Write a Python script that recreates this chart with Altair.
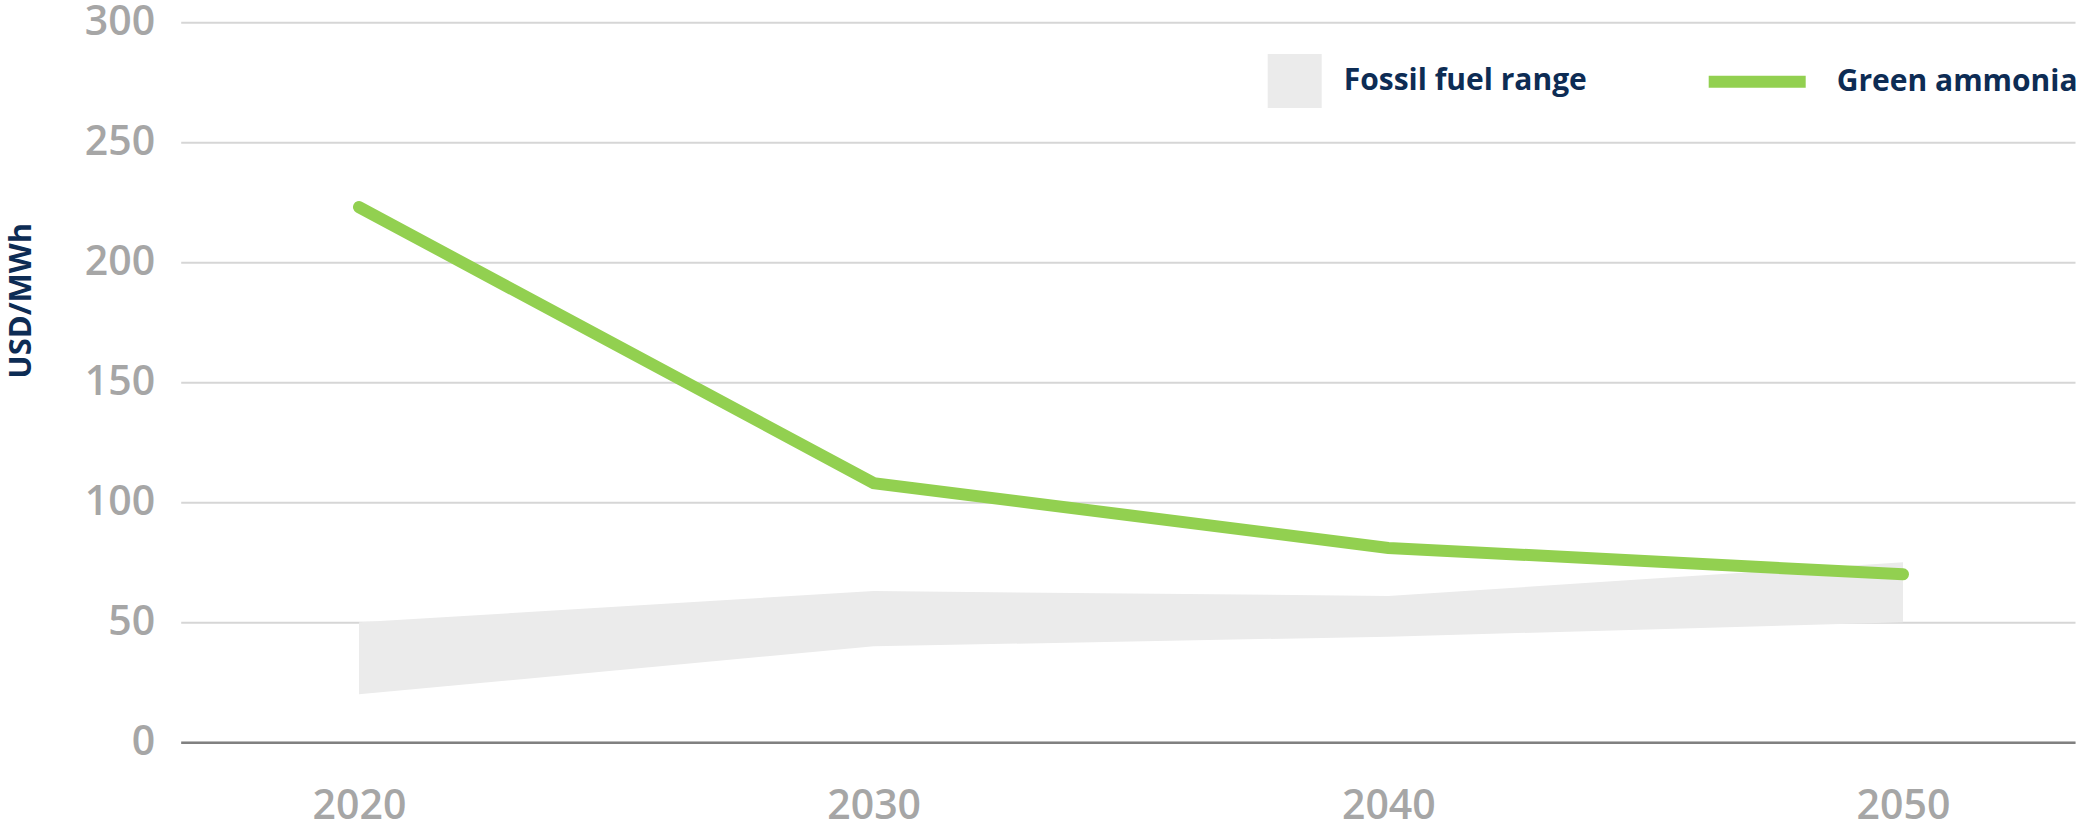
import altair as alt
import pandas as pd

# Levelised cost, USD/MWh
years = [2020, 2030, 2040, 2050]
green_ammonia = [223, 108, 81, 70]
fossil_low = [20, 40, 44, 50]
fossil_high = [50, 63, 61, 75]

y_ticks = [0, 50, 100, 150, 200, 250, 300]

NAVY = "#0D2C54"
GREEN = "#92D050"
GREY_FILL = "#EBEBEB"
FONT = "Open Sans"

fossil = pd.DataFrame({
    "year": years,
    "low": fossil_low,
    "high": fossil_high,
    "series": ["Fossil fuel range"] * len(years),
})
ammonia = pd.DataFrame({
    "year": years,
    "cost": green_ammonia,
    "series": ["Green ammonia"] * len(years),
})

x_scale = alt.Scale(domain=[2016.536, 2053.342], nice=False, zero=False)
y_scale = alt.Scale(domain=[0, 300], nice=False)

x_axis = alt.Axis(
    values=years, format="d", grid=False, ticks=False, tickSize=0,
    labelPadding=44, labelFontSize=41, labelFont=FONT, labelFontWeight=600,
    labelColor="#A6A6A6", domainColor="#808080", domainWidth=2.5,
    title=None,
)
y_axis = alt.Axis(
    values=y_ticks, grid=True, gridColor="#D6D6D6", gridWidth=2,
    ticks=False, tickSize=0, domain=False, labelPadding=26,
    labelFontSize=41, labelFont=FONT, labelFontWeight=600,
    labelColor="#A6A6A6", title="USD/MWh", titleFont=FONT,
    titleFontSize=31, titleFontWeight="bold", titleColor=NAVY,
    titleX=-159, titleY=278, titleAngle=270, titleBaseline="middle",
    titleAlign="center",
)

area = alt.Chart(fossil).mark_area(opacity=1).encode(
    x=alt.X("year:Q", scale=x_scale, axis=x_axis),
    y=alt.Y("low:Q", scale=y_scale, axis=y_axis),
    y2="high:Q",
    fill=alt.Fill(
        "series:N",
        scale=alt.Scale(domain=["Fossil fuel range"], range=[GREY_FILL]),
        title=None,
        legend=alt.Legend(
            orient="none", legendX=1087, legendY=31.7, padding=0,
            symbolType="square", symbolSize=2916, symbolStrokeWidth=0,
            symbolOpacity=1, labelOffset=22, labelFont=FONT,
            labelFontSize=30, labelFontWeight="bold", labelColor=NAVY,
            labelLimit=600,
        ),
    ),
)

line = alt.Chart(ammonia).mark_line(
    strokeWidth=12, strokeCap="round"
).encode(
    x=alt.X("year:Q", scale=x_scale),
    y=alt.Y("cost:Q", scale=y_scale),
    stroke=alt.Stroke(
        "series:N",
        scale=alt.Scale(domain=["Green ammonia"], range=[GREEN]),
        title=None,
        legend=alt.Legend(
            orient="none", legendX=1522, legendY=4.9, padding=0,
            symbolType="stroke", symbolSize=9409, symbolStrokeWidth=12,
            labelOffset=25, labelFont=FONT, labelFontSize=30,
            labelFontWeight="bold", labelColor=NAVY, labelLimit=600,
        ),
    ),
)

chart = (
    alt.layer(area, line)
    .properties(
        width=1894.3,
        height=720,
        autosize=alt.AutoSizeParams(type="none"),
        padding={"left": 180.7, "top": 22.3, "right": 7, "bottom": 86.7},
        background="white",
    )
    .configure_view(strokeWidth=0)
)

chart.save("out.html", embed_options={"renderer": "svg", "actions": False})
